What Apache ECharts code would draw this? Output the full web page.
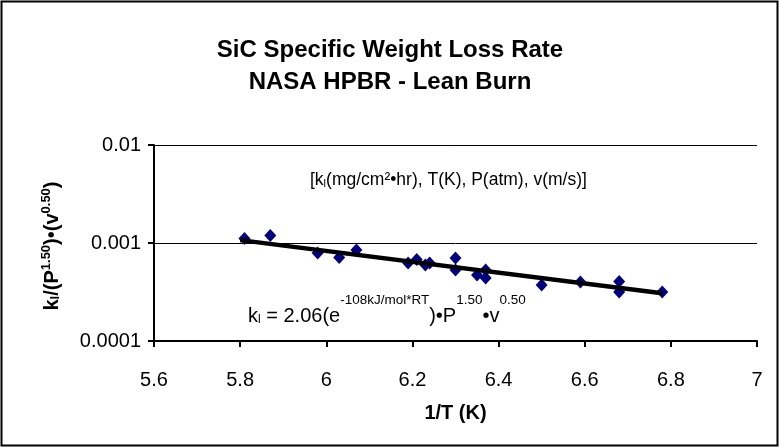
<!DOCTYPE html>
<html><head><meta charset="utf-8">
<script src="https://cdn.jsdelivr.net/npm/echarts@6/dist/echarts.min.js"></script>
<style>html,body{margin:0;padding:0;background:#fff}#c{width:780px;height:448px}</style>
</head><body><div id="c"></div>
<script>
var xValues = [5.81, 5.87, 5.98, 6.03, 6.07, 6.19, 6.21, 6.23, 6.24, 6.30, 6.30, 6.35, 6.37, 6.37, 6.50, 6.59, 6.68, 6.68, 6.78];
var yValues = [0.00111, 0.00119, 0.00079, 0.00071, 0.00085, 0.000625, 0.00068, 0.000596, 0.000625, 0.000703, 0.00053, 0.000471, 0.00053, 0.00044, 0.000373, 0.0004, 0.000405, 0.000316, 0.000316];
var trendX = [5.80, 6.78];
var trendY = [0.00107, 0.000307];
var yTickLabels = {'-4': '0.0001', '-3': '0.001', '-2': '0.01'};

var FONT = 'Liberation Sans, Arial, sans-serif';
var pts = xValues.map(function (x, i) { return [x, yValues[i]]; });
var trend = trendX.map(function (x, i) { return [x, trendY[i]]; });

var chart = echarts.init(document.getElementById('c'), null, {renderer: 'canvas'});
chart.setOption({
  backgroundColor: '#fff',
  animation: false,
  textStyle: {fontFamily: FONT},
  grid: {left: 154, right: 23, top: 145, bottom: 107, containLabel: false},
  xAxis: {
    type: 'value', min: 5.6, max: 7, interval: 0.2,
    axisLine: {show: true, onZero: false, lineStyle: {color: '#000', width: 2}},
    axisTick: {show: true, inside: false, length: 6, lineStyle: {color: '#000', width: 2}},
    axisLabel: {color: '#000', fontSize: 20, fontFamily: FONT, margin: 29,
      formatter: function (v) { return String(Math.round(v * 10) / 10); }},
    splitLine: {show: false},
    name: '1/T (K)', nameLocation: 'middle', nameGap: 62,
    nameTextStyle: {color: '#000', fontSize: 20, fontWeight: 'bold', fontFamily: FONT}
  },
  yAxis: {
    type: 'log', logBase: 10, min: 0.0001, max: 0.01,
    axisLine: {show: true, onZero: false, lineStyle: {color: '#000', width: 2}},
    axisTick: {show: true, inside: false, length: 6, lineStyle: {color: '#000', width: 2}},
    axisLabel: {color: '#000', fontSize: 20, fontFamily: FONT, margin: 13,
      formatter: function (v) { var e = Math.round(Math.log10(v)); return yTickLabels[String(e)] || ''; }},
    splitLine: {show: true, lineStyle: {color: '#000', width: 1}},
    minorTick: {show: false}
  },
  graphic: [
    {type: 'rect', shape: {x: 1.5, y: 1.5, width: 776, height: 444}, style: {fill: 'none', stroke: '#000', lineWidth: 2}, z: 100, silent: true},
    {type: 'text', left: 'center', top: 34, style: {text: 'SiC Specific Weight Loss Rate\nNASA HPBR - Lean Burn', font: 'bold 24px ' + FONT, fill: '#000', textAlign: 'center', lineHeight: 32}},
    {type: 'text', x: 310, y: 167, style: {
      text: '{a|[k}{s|l}{a|(mg/cm²•hr), T(K), P(atm), v(m/s)]}',
      rich: {a: {fontSize: 17.5, fontFamily: FONT, fill: '#000', verticalAlign: 'bottom', lineHeight: 22},
             s: {fontSize: 11, fontFamily: FONT, fill: '#000', verticalAlign: 'bottom', lineHeight: 22}}}},
    {type: 'text', x: 248, y: 302, style: {
      text: '{a|k}{s|l}{a| = 2.06(e}{p|-108kJ/mol*RT}{a|)•P}{p|1.50}{a|•v}{p|0.50}',
      rich: {a: {fontSize: 20, fontFamily: FONT, fill: '#000', verticalAlign: 'bottom', lineHeight: 24},
             s: {fontSize: 12, fontFamily: FONT, fill: '#000', verticalAlign: 'bottom', lineHeight: 24},
             p: {fontSize: 13.5, fontFamily: FONT, fill: '#000', verticalAlign: 'bottom', lineHeight: 24, padding: [0, 0, 19, 0]}}}},
    {type: 'text', x: 50, y: 246, rotation: Math.PI / 2, style: {
      text: '{a|k}{s|l}{a|/(P}{p|1.50}{a|)•(v}{p|0.50}{a|)}',
      textAlign: 'center', textVerticalAlign: 'middle',
      rich: {a: {fontSize: 20, fontWeight: 'bold', fontFamily: FONT, fill: '#000', verticalAlign: 'bottom', lineHeight: 24},
             s: {fontSize: 13, fontWeight: 'bold', fontFamily: FONT, fill: '#000', verticalAlign: 'bottom', lineHeight: 24},
             p: {fontSize: 13, fontWeight: 'bold', fontFamily: FONT, fill: '#000', verticalAlign: 'bottom', lineHeight: 24, padding: [0, 0, 9, 0]}}}}
  ],
  series: [
    {type: 'line', data: trend, symbol: 'none', lineStyle: {color: '#000', width: 4.5}, z: 3},
    {type: 'scatter', data: pts, symbol: 'diamond', symbolSize: [12, 13], itemStyle: {color: '#000080', opacity: 1}, z: 2}
  ]
});
</script></body></html>
